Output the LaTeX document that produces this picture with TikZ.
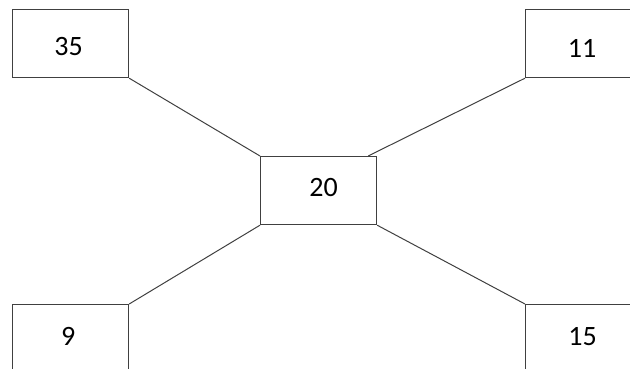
\documentclass[tikz,border=0pt]{standalone}
\usepackage{fontspec}
\setmainfont{Carlito}
\usetikzlibrary{calc}
\definecolor{edgec}{RGB}{64,64,64}
\tikzset{
  numbox/.style={draw=edgec, line width=1.2pt, minimum width=116pt, minimum height=68pt,
    inner sep=0pt},
  numtext/.style={font=\fontsize{28}{32}\selectfont, text=black, inner sep=0pt},
  link/.style={draw=edgec, line width=1pt}
}
\begin{document}
\begin{tikzpicture}[x=1pt,y=-1pt]
\useasboundingbox (0,0) rectangle (630,369);
\clip (0,0) rectangle (630,369);
\node[numbox, anchor=north west, label={[numtext, xshift=-2pt, yshift=-3pt]center:35}] (tl) at (12,9) {};
\node[numbox, anchor=north west, label={[numtext, xshift=-1.5pt, yshift=-5pt]center:11}] (tr) at (525,9) {};
\node[numbox, anchor=north west, label={[numtext, xshift=5pt, yshift=3pt]center:20}] (c) at (260,156) {};
\node[numbox, anchor=north west, label={[numtext, xshift=-2.5pt, yshift=2.5pt]center:9}] (bl) at (12,304) {};
\node[numbox, anchor=north west, label={[numtext, xshift=-1pt, yshift=2pt]center:15}] (br) at (525,304) {};
\draw[link] (tl.south east) -- (c.north west);
\draw[link] (tr.south west) -- ($(c.north east)+(-9,0)$);
\draw[link] (bl.north east) -- (c.south west);
\draw[link] (br.north west) -- (c.south east);
\end{tikzpicture}
\end{document}
